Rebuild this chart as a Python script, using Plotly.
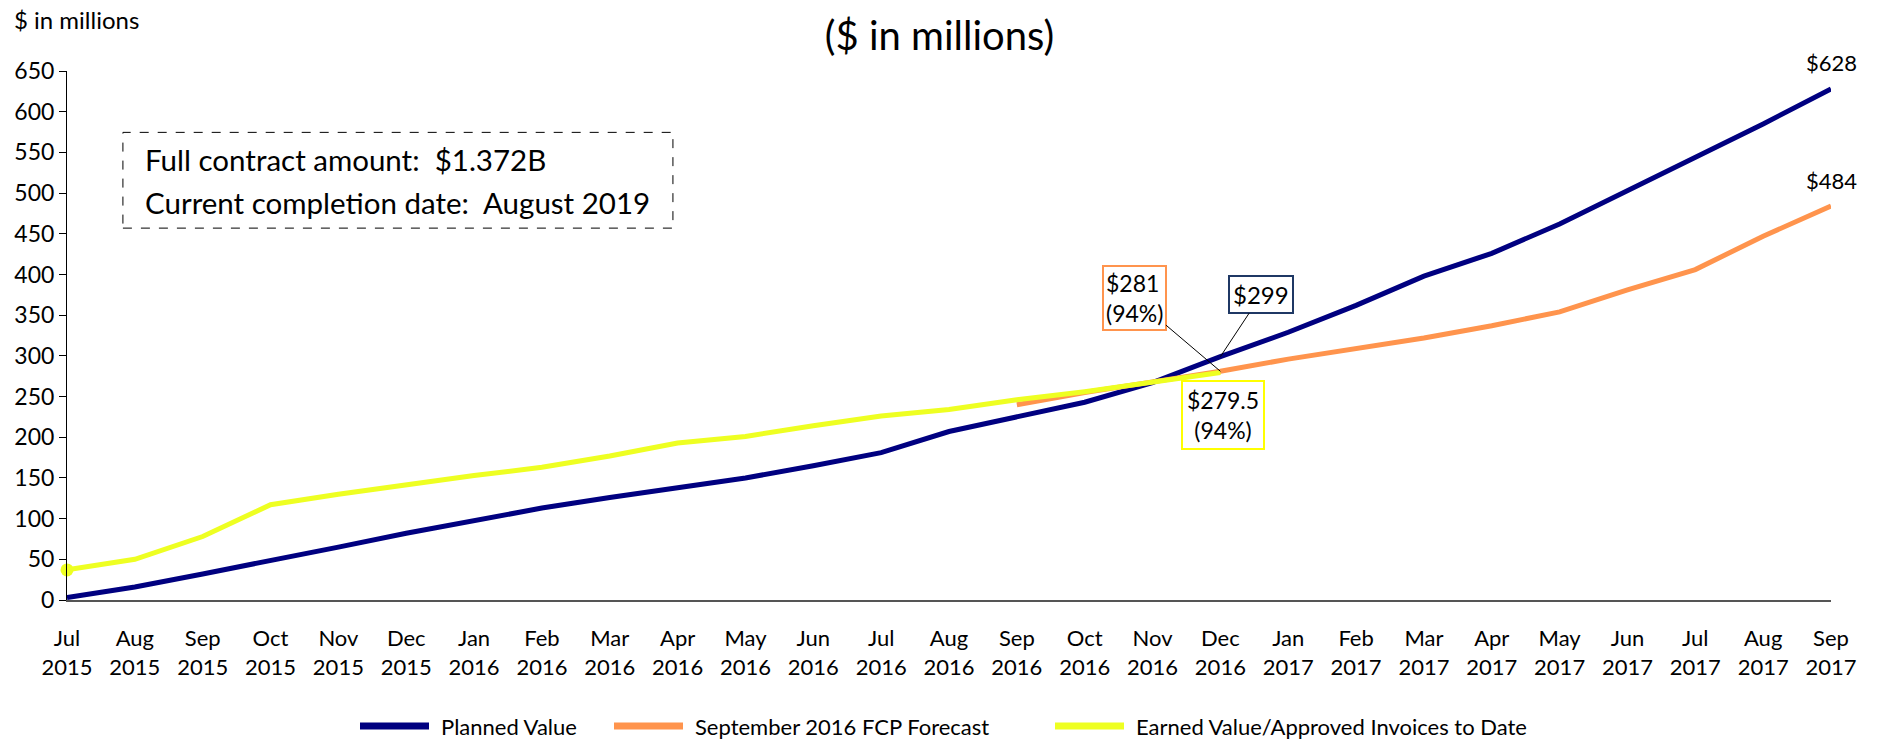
import plotly.graph_objects as go

# Month labels, Jul 2015 .. Sep 2017
months = ["Jul", "Aug", "Sep", "Oct", "Nov", "Dec", "Jan", "Feb", "Mar", "Apr",
          "May", "Jun", "Jul", "Aug", "Sep", "Oct", "Nov", "Dec", "Jan", "Feb",
          "Mar", "Apr", "May", "Jun", "Jul", "Aug", "Sep"]
years = ["2015"] * 6 + ["2016"] * 12 + ["2017"] * 9
tick_labels = [f"{m}<br>{y}" for m, y in zip(months, years)]

# $ in millions
planned_value = [3, 16, 32, 48, 65, 82, 97, 113, 126, 138, 150, 165, 181, 207,
                 225, 243, 267, 299, 329, 362, 398, 426, 462, 503, 543, 585, 628]
# September 2016 FCP forecast starts at Sep 2016 (index 14)
forecast_start = 14
forecast = [240, 255, 268, 281, 296, 309, 322, 337, 354, 381, 406, 447, 484]
# Earned value / approved invoices, Jul 2015 .. Dec 2016
earned_value = [37, 50, 78, 117, 130, 142, 153, 163, 177, 193, 201, 214, 226,
                234, 246, 256, 268, 279.5]

series_names = ["Planned Value", "September 2016 FCP Forecast",
                "Earned Value/Approved Invoices to Date"]

NAVY = "#000080"
ORANGE = "#FF944D"
YELLOW = "#EEFF22"
FONT = "Lato"
LW = 5

W, H = 1879, 741
M_L, M_R, M_T, M_B = 67, 48, 71, 141
PLOT_W = W - M_L - M_R
PLOT_H = H - M_T - M_B


def px_to_paper_x(px):
    return (px - M_L) / PLOT_W


def px_to_paper_y(py):
    return (H - M_B - py) / PLOT_H


x_all = list(range(len(months)))
colors = [NAVY, ORANGE, YELLOW]

fig = go.Figure()
fig.add_trace(go.Scatter(
    x=x_all, y=planned_value, mode="lines", name=series_names[0],
    line=dict(color=NAVY, width=LW), showlegend=False))
fig.add_trace(go.Scatter(
    x=x_all[forecast_start:forecast_start + len(forecast)], y=forecast,
    mode="lines", name=series_names[1],
    line=dict(color=ORANGE, width=LW), showlegend=False))
fig.add_trace(go.Scatter(
    x=x_all[:len(earned_value)], y=earned_value, mode="lines",
    name=series_names[2],
    line=dict(color=YELLOW, width=LW), showlegend=False))
# starting point marker on the earned value series
fig.add_trace(go.Scatter(
    x=[x_all[0]], y=[earned_value[0]], mode="markers", showlegend=False,
    marker=dict(color=YELLOW, size=13), cliponaxis=False, hoverinfo="skip"))

i_dec = len(earned_value) - 1
annotations = [
    # end-of-series values
    dict(x=x_all[-1], y=planned_value[-1], text=f"${planned_value[-1]}",
         showarrow=False, yanchor="bottom", yshift=11,
         font=dict(size=22, color="black", family=FONT)),
    dict(x=x_all[-1], y=forecast[-1], text=f"${forecast[-1]}",
         showarrow=False, yanchor="bottom", yshift=10,
         font=dict(size=22, color="black", family=FONT)),
    # Dec 2016 call-outs
    dict(x=x_all[i_dec], y=forecast[i_dec - forecast_start],
         text=f"${forecast[i_dec - forecast_start]}<br>(94%)",
         showarrow=True, arrowhead=0, arrowwidth=1, arrowcolor="black",
         ax=-86, ay=-73, align="left",
         bordercolor=ORANGE, borderwidth=2, borderpad=2, bgcolor="white",
         font=dict(size=23, color="black", family=FONT)),
    dict(x=x_all[i_dec], y=planned_value[i_dec], text=f"${planned_value[i_dec]}",
         showarrow=True, arrowhead=0, arrowwidth=1, arrowcolor="black",
         ax=41, ay=-62,
         bordercolor="#1F3864", borderwidth=2, borderpad=3, bgcolor="white",
         font=dict(size=24, color="black", family=FONT)),
    dict(x=x_all[i_dec], y=earned_value[-1], text=f"${earned_value[-1]}<br>(94%)",
         showarrow=False, yanchor="top", yshift=-7, xshift=3,
         bordercolor="#FFFF00", borderwidth=2, borderpad=4, bgcolor="white",
         font=dict(size=23, color="black", family=FONT)),
    # contract info box text
    dict(xref="paper", yref="paper", x=0.043, y=0.832, xanchor="left",
         yanchor="middle", showarrow=False,
         text="Full contract amount:  $1.372B",
         font=dict(size=29.5, color="black", family=FONT)),
    dict(xref="paper", yref="paper", x=0.043, y=0.7505, xanchor="left",
         yanchor="middle", showarrow=False,
         text="Current completion date:  August 2019",
         font=dict(size=29.5, color="black", family=FONT)),
    # units note, top left
    dict(xref="paper", yref="paper", x=-0.0312, y=1.0976, xanchor="left",
         yanchor="middle", showarrow=False, text="$ in millions",
         font=dict(size=24, color="black", family=FONT)),
]

shapes = [dict(type="rect", xref="paper", yref="paper",
               x0=0.0317, x1=0.3435, y0=0.703, y1=0.884,
               line=dict(color="black", width=1, dash="dash"))]

# legend row below the axis: swatch line + label for each series
legend_y = px_to_paper_y(726)
swatch_starts = [360, 614, 1055]
swatch_len = 69
for name, color, sx in zip(series_names, colors, swatch_starts):
    shapes.append(dict(type="line", xref="paper", yref="paper",
                       x0=px_to_paper_x(sx), x1=px_to_paper_x(sx + swatch_len),
                       y0=legend_y, y1=legend_y,
                       line=dict(color=color, width=7)))
    annotations.append(dict(xref="paper", yref="paper",
                            x=px_to_paper_x(sx + swatch_len + 10), y=legend_y,
                            xanchor="left", yanchor="middle", showarrow=False,
                            text=name,
                            font=dict(size=22, color="black", family=FONT)))

fig.update_layout(
    width=W, height=H,
    margin=dict(l=M_L, r=M_R, t=M_T, b=M_B),
    paper_bgcolor="white", plot_bgcolor="white",
    font=dict(family=FONT, color="black"),
    title=dict(text="($ in millions)", x=0.5, xanchor="center", y=0.9514,
               yanchor="middle", font=dict(size=40, family=FONT, color="black")),
    showlegend=False,
    annotations=annotations,
    shapes=shapes,
)

fig.update_xaxes(
    range=[0, len(months) - 1], tickmode="array", tickvals=x_all,
    ticktext=tick_labels, showgrid=False, zeroline=False, automargin=False,
    showline=True, linecolor="#555555", linewidth=2, ticks="",
    ticklabelstandoff=18, tickfont=dict(size=22, family=FONT, color="black"))
fig.update_yaxes(
    range=[0, 650], tickmode="linear", tick0=0, dtick=50, showgrid=False,
    zeroline=False, showline=True, linecolor="black", linewidth=1,
    automargin=False, ticks="outside", ticklen=7, tickcolor="black",
    tickfont=dict(size=23, family=FONT, color="black"))

fig.write_html("out.html")
